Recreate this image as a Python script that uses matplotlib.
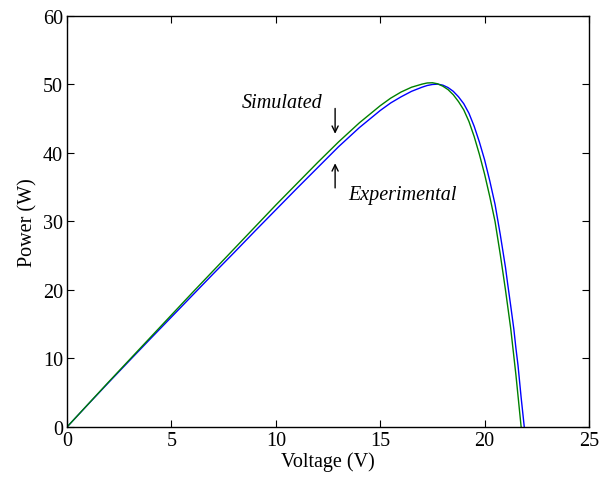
import matplotlib
matplotlib.use("Agg")
import matplotlib.pyplot as plt

# Simulated P-V curve (green)
sim_v = [0, 1, 2, 3, 4, 5, 6, 7, 8, 9, 10, 11, 12, 13, 14, 15, 15.5, 16, 16.5,
         17, 17.25, 17.5, 17.75, 18, 18.25, 18.5, 18.75, 19, 19.25, 19.5, 19.75,
         20, 20.25, 20.5, 20.75, 21, 21.25, 21.5, 21.75]
sim_p = [0, 3.3, 6.6, 9.85, 13.1, 16.35, 19.6, 22.8, 26.0, 29.2, 32.4, 35.5, 38.6,
         41.6, 44.4, 46.9, 48.0, 48.9, 49.6, 50.05, 50.22, 50.25, 50.1, 49.75,
         49.25, 48.5, 47.5, 46.3, 44.6, 42.4, 39.8, 36.9, 33.6, 30.0, 25.2,
         20.0, 14.4, 7.6, 0]

# Experimental P-V curve (blue)
exp_v = [0, 1, 2, 3, 4, 5, 6, 7, 8, 9, 10, 11, 12, 13, 14, 15, 15.5, 16, 16.5,
         17, 17.25, 17.5, 17.75, 18, 18.25, 18.5, 18.75, 19, 19.25, 19.5, 19.75, 20,
         20.25, 20.5, 20.75, 21, 21.1, 21.25, 21.4, 21.5, 21.6, 21.75, 21.9]
exp_p = [0, 3.28, 6.52, 9.72, 12.9, 16.05, 19.2, 22.35, 25.45, 28.6, 31.7, 34.8,
         37.85, 40.9, 43.7, 46.2, 47.3, 48.2, 49.0, 49.6, 49.85, 50.0, 50.05, 49.9,
         49.55, 49.0, 48.2, 47.2, 45.8, 43.9, 41.6, 39.0, 35.9, 32.5, 28.1, 23.3,
         21.0, 17.7, 14.3, 11.5, 9.0, 4.3, 0]

x_ticks = [0, 5, 10, 15, 20, 25]
y_ticks = [0, 10, 20, 30, 40, 50, 60]

plt.rcParams['font.family'] = ['Liberation Serif', 'DejaVu Serif']

FS = 14.5

fig = plt.figure(figsize=(5.99, 4.81), dpi=100)
ax = fig.add_axes([0.1119, 0.1102, 0.8714, 0.8545])

ax.plot(exp_v, exp_p, color=(0, 0, 1), lw=1.0)
ax.plot(sim_v, sim_p, color=(0, 0.5, 0), lw=1.0)

ax.set_xlim(0, 25)
ax.set_ylim(0, 60)
ax.set_xticks(x_ticks)
ax.set_yticks(y_ticks)
ax.tick_params(direction='in', length=5, width=0.8, labelsize=FS,
               top=True, right=True, pad=3)
for s in ax.spines.values():
    s.set_linewidth(1.0)

ax.set_xlabel('Voltage (V)', fontsize=FS, labelpad=1)
ax.set_ylabel('Power (W)', fontsize=FS, labelpad=4)

ax.text(8.35, 47.3, 'Simulated', fontsize=FS, style='italic', va='center', ha='left')
ax.text(13.45, 33.9, 'Experimental', fontsize=FS, style='italic', va='center', ha='left')

arrow = dict(arrowstyle='->,head_length=0.45,head_width=0.22', lw=1.0, color='black',
             shrinkA=0, shrinkB=0)
ax.annotate('', xy=(12.84, 42.8), xytext=(12.84, 46.5), arrowprops=arrow)
ax.annotate('', xy=(12.84, 38.5), xytext=(12.84, 34.9), arrowprops=arrow)

fig.savefig('out.png', dpi=100)
